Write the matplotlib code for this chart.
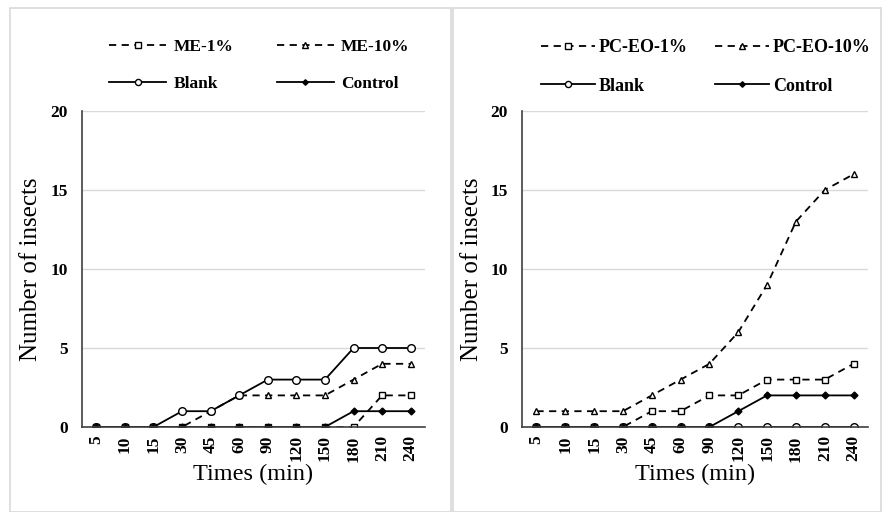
import matplotlib
matplotlib.use("Agg")
import matplotlib.pyplot as plt
from matplotlib.lines import Line2D
from matplotlib.patches import Rectangle

plt.rcParams['font.family'] = ['Liberation Serif', 'DejaVu Serif']

times = ['5', '10', '15', '30', '45', '60', '90', '120', '150', '180', '210', '240']

# left panel
me_1 = [0, 0, 0, 0, 0, 0, 0, 0, 0, 0, 2, 2]
me_10 = [0, 0, 0, 0, 1, 2, 2, 2, 2, 3, 4, 4]
blank_left = [0, 0, 0, 1, 1, 2, 3, 3, 3, 5, 5, 5]
control_left = [0, 0, 0, 0, 0, 0, 0, 0, 0, 1, 1, 1]

# right panel
pc_1 = [0, 0, 0, 0, 1, 1, 2, 2, 3, 3, 3, 4]
pc_10 = [1, 1, 1, 1, 2, 3, 4, 6, 9, 13, 15, 16]
blank_right = [0, 0, 0, 0, 0, 0, 0, 0, 0, 0, 0, 0]
control_right = [0, 0, 0, 0, 0, 0, 0, 1, 2, 2, 2, 2]

W, H = 882, 512
fig = plt.figure(figsize=(W / 100, H / 100), dpi=100)

# chart area borders
for x0, x1 in [(10, 451), (453, 881)]:
    fig.patches.append(Rectangle((x0 / W, 0), (x1 - x0) / W, 1 - 8 / H, transform=fig.transFigure,
                                 fill=False, edgecolor='#d9d9d9', lw=1.2))

dash = (0, (4, 3))
styles = [
    dict(ls=dash, marker='s', ms=5, mfc='white'),
    dict(ls=dash, marker='^', ms=5, mfc='white'),
    dict(ls='-', marker='o', ms=5.5, mfc='white'),
    dict(ls='-', marker='D', ms=3.5, mfc='black'),
]


def panel(rect, series, labels, leg_anchor, leg_kw, ylab_x):
    ax = fig.add_axes(rect)
    x = range(len(times))
    for ys, st in zip(series, styles):
        ax.plot(x, ys, color='black', lw=1.3, mec='black', mew=1.0, **st)
    ax.set_xlim(-0.5, len(times) - 0.5)
    ax.set_ylim(0, 20)
    ax.set_yticks([0, 5, 10, 15, 20])
    ax.set_xticks(list(x))
    ax.set_xticklabels(times, rotation=90, fontweight='bold', fontsize=12.5)
    for lab in ax.get_yticklabels():
        lab.set_fontweight('bold')
        lab.set_fontsize(12.5)
    ax.tick_params(axis='y', length=0, pad=10)
    ax.tick_params(axis='x', length=0, pad=6)
    ax.grid(axis='y', color='#d9d9d9', lw=1)
    ax.set_axisbelow(True)
    for s in ['top', 'right']:
        ax.spines[s].set_visible(False)
    ax.spines['left'].set_color('#404040')
    ax.spines['bottom'].set_color('#404040')
    ax.spines['left'].set_linewidth(1.2)
    ax.spines['bottom'].set_linewidth(1.2)
    ax.set_ylabel('Number of insects', fontsize=18)
    ax.yaxis.set_label_coords(ylab_x, 0.5)
    ax.set_xlabel('Times (min)', fontsize=17.5, labelpad=2)
    handles = [Line2D([], [], color='black', lw=1.3, mec='black', mew=1.0,
                      **dict(st, ms=st['ms'] * 0.8)) for st in styles]
    # row-major order like the original legend
    order = [0, 2, 1, 3]
    fig.legend([handles[i] for i in order], [labels[i] for i in order], ncol=2,
               loc='upper left', bbox_to_anchor=leg_anchor, frameon=False,
               labelspacing=1.2, borderpad=0, borderaxespad=0, **leg_kw)
    return ax


panel([82 / W, 1 - 427 / H, (425 - 82) / W, (427 - 111) / H],
      [me_1, me_10, blank_left, control_left],
      ['ME-1%', 'ME-10%', 'Blank', 'Control'], (109 / W, 1 - 39 / H),
      dict(prop=dict(weight='bold', size=12.5), handlelength=3.3,
           handletextpad=0.4, columnspacing=2.5), -0.117)
panel([522 / W, 1 - 427 / H, (868 - 522) / W, (427 - 111) / H],
      [pc_1, pc_10, blank_right, control_right],
      ['PC-EO-1%', 'PC-EO-10%', 'Blank', 'Control'], (541 / W, 1 - 39 / H),
      dict(prop=dict(weight='bold', size=13), handlelength=3.0,
           handletextpad=0.2, columnspacing=1.5), -0.113)

fig.savefig('out.png', dpi=100)
